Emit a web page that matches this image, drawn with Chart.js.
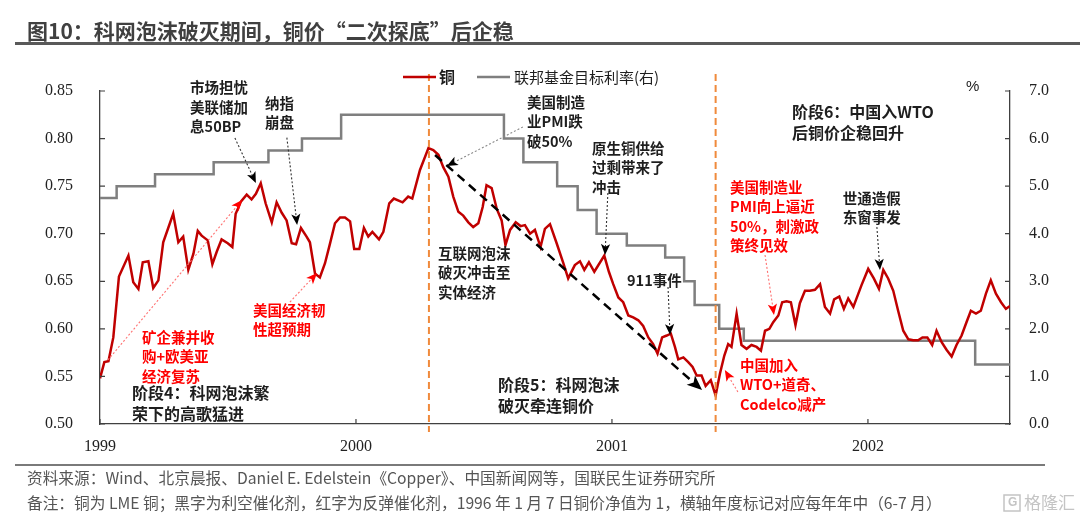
<!DOCTYPE html>
<html>
<head>
<meta charset="utf-8">
<script src="https://cdn.jsdelivr.net/npm/chart.js@4.4.1/dist/chart.umd.min.js"></script>
<style>
  html, body { margin: 0; padding: 0; background: #fff; }
  #wrap { position: relative; width: 1080px; height: 526px; }
</style>
</head>
<body>
<div id="wrap"><canvas id="chart" width="1080" height="526"></canvas></div>
<script>
// x values are years after the 1999 tick (ticks sit at mid-year)
const yearTicks = [0, 1, 2, 3];
const yearLabels = ['1999', '2000', '2001', '2002'];
const xMax = 3.555;

// LME copper, net value (1996-01-07 = 1)
const copperT = [
  0.000, 0.017, 0.033, 0.052, 0.074, 0.111, 0.130, 0.150, 0.167, 0.189,
  0.208, 0.228, 0.247, 0.286, 0.306, 0.325, 0.345, 0.365, 0.382, 0.397,
  0.421, 0.439, 0.456, 0.475, 0.499, 0.517, 0.530, 0.551, 0.573, 0.592,
  0.609, 0.628, 0.647, 0.671, 0.690, 0.710, 0.729, 0.749, 0.766, 0.785,
  0.807, 0.820, 0.840, 0.859, 0.879, 0.898, 0.918, 0.938, 0.957, 0.977,
  0.993, 1.013, 1.031, 1.048, 1.064, 1.090, 1.107, 1.130, 1.148, 1.182,
  1.204, 1.220, 1.250, 1.283, 1.302, 1.322, 1.341, 1.361, 1.380, 1.400,
  1.419, 1.439, 1.458, 1.478, 1.495, 1.510, 1.530, 1.550, 1.569, 1.584,
  1.602, 1.624, 1.643, 1.660, 1.680, 1.699, 1.721, 1.738, 1.758, 1.784,
  1.810, 1.829, 1.855, 1.875, 1.892, 1.910, 1.931, 1.970, 1.988, 2.005,
  2.025, 2.044, 2.064, 2.083, 2.103, 2.122, 2.142, 2.161, 2.178, 2.196,
  2.214, 2.230, 2.246, 2.259, 2.279, 2.298, 2.315, 2.331, 2.350, 2.366,
  2.386, 2.405, 2.422, 2.439, 2.454, 2.467, 2.487, 2.506, 2.526, 2.545,
  2.565, 2.582, 2.598, 2.615, 2.630, 2.650, 2.665, 2.682, 2.699, 2.717,
  2.734, 2.754, 2.773, 2.793, 2.813, 2.832, 2.852, 2.868, 2.888, 2.906,
  2.923, 2.943, 2.975, 3.001, 3.023, 3.043, 3.060, 3.079, 3.099, 3.118,
  3.138, 3.158, 3.177, 3.196, 3.213, 3.232, 3.251, 3.268, 3.288, 3.307,
  3.327, 3.346, 3.366, 3.385, 3.402, 3.422, 3.441, 3.461, 3.480, 3.500,
  3.520, 3.539, 3.555
];
const copperV = [
  0.548, 0.565, 0.566, 0.591, 0.655, 0.677, 0.649, 0.642, 0.670, 0.671,
  0.643, 0.651, 0.691, 0.721, 0.691, 0.697, 0.662, 0.679, 0.703, 0.698,
  0.693, 0.668, 0.681, 0.694, 0.690, 0.686, 0.721, 0.734, 0.741, 0.736,
  0.742, 0.753, 0.732, 0.712, 0.733, 0.722, 0.714, 0.690, 0.689, 0.706,
  0.697, 0.691, 0.658, 0.654, 0.669, 0.689, 0.711, 0.717, 0.717, 0.713,
  0.684, 0.684, 0.706, 0.697, 0.702, 0.694, 0.702, 0.732, 0.737, 0.733,
  0.739, 0.737, 0.767, 0.790, 0.788, 0.783, 0.770, 0.760, 0.739, 0.723,
  0.719, 0.712, 0.707, 0.711, 0.728, 0.751, 0.748, 0.726, 0.714, 0.688,
  0.704, 0.712, 0.708, 0.709, 0.700, 0.704, 0.686, 0.705, 0.710, 0.690,
  0.669, 0.653, 0.667, 0.671, 0.662, 0.670, 0.660, 0.677, 0.660, 0.647,
  0.633, 0.628, 0.614, 0.612, 0.609, 0.603, 0.591, 0.584, 0.574, 0.591,
  0.593, 0.595, 0.581, 0.568, 0.570, 0.565, 0.560, 0.551, 0.551, 0.540,
  0.546, 0.530, 0.553, 0.572, 0.584, 0.581, 0.616, 0.583, 0.579, 0.583,
  0.581, 0.577, 0.598, 0.600, 0.607, 0.614, 0.628, 0.629, 0.628, 0.604,
  0.627, 0.640, 0.640, 0.641, 0.647, 0.623, 0.616, 0.631, 0.634, 0.621,
  0.632, 0.623, 0.646, 0.663, 0.653, 0.642, 0.662, 0.653, 0.640, 0.619,
  0.598, 0.589, 0.588, 0.588, 0.591, 0.591, 0.583, 0.598, 0.586, 0.578,
  0.571, 0.583, 0.593, 0.607, 0.619, 0.616, 0.619, 0.637, 0.651, 0.637,
  0.628, 0.621, 0.624
];

// Fed funds target rate (%), value from each change date on
const rateT = [0, 0.065, 0.215, 0.444, 0.658, 0.789, 0.942, 1.578, 1.654, 1.786,
               1.866, 1.940, 2.058, 2.208, 2.282, 2.323, 2.419, 2.515, 3.419, 3.555];
const rateV = [4.75, 5.00, 5.25, 5.50, 5.75, 6.00, 6.50, 6.00, 5.50, 5.00,
               4.50, 4.00, 3.75, 3.50, 3.00, 2.50, 2.00, 1.75, 1.25, 1.25];

// phase boundaries (orange dashed lines)
const phaseMarks = [1.285, 2.405];

const NUM_FONT = "'Liberation Serif', 'Times New Roman', serif";
const CJK_FONT = "'Noto Sans CJK SC', 'Noto Sans', sans-serif";
const BLACK = '#1e1e1e', RED = '#ff0000';

// annotation texts, anchored at (years, left-axis value)
const notes = [
  { t: 0.352, v: 0.8532, lines: ['市场担忧', '美联储加', '息50BP'], color: BLACK },
  { t: 0.645, v: 0.8374, lines: ['纳指', '崩盘'], color: BLACK },
  { t: 0.164, v: 0.5914, lines: ['矿企兼并收', '购+欧美亚', '经济复苏'], color: RED },
  { t: 0.598, v: 0.6198, lines: ['美国经济韧', '性超预期'], color: RED },
  { t: 0.125, v: 0.5326, lines: ['阶段4：科网泡沫繁', '荣下的高歌猛进'], color: BLACK, big: true },
  { t: 1.320, v: 0.6797, lines: ['互联网泡沫', '破灭冲击至', '实体经济'], color: BLACK },
  { t: 1.668, v: 0.8384, lines: ['美国制造', '业PMI跌', '破50%'], color: BLACK },
  { t: 1.922, v: 0.7901, lines: ['原生铜供给', '过剩带来了', '冲击'], color: BLACK },
  { t: 2.059, v: 0.6513, lines: ['911事件'], color: BLACK },
  { t: 1.555, v: 0.5410, lines: ['阶段5：科网泡沫', '破灭牵连铜价'], color: BLACK, big: true },
  { t: 2.461, v: 0.7491, lines: ['美国制造业', 'PMI向上逼近', '50%，刺激政', '策终见效'], color: RED },
  { t: 2.500, v: 0.5620, lines: ['中国加入', 'WTO+道奇、', 'Codelco减产'], color: RED },
  { t: 2.703, v: 0.8279, lines: ['阶段6：中国入WTO', '后铜价企稳回升'], color: BLACK, big: true },
  { t: 2.902, v: 0.7375, lines: ['世通造假', '东窗事发'], color: BLACK }
];

// dotted pointer arrows [t0, v0, t1, v1, lineColor, headColor]
const pointers = [
  [0.527, 0.8006, 0.609, 0.7533, '#333', '#000'],
  [0.730, 0.8010, 0.770, 0.7092, '#333', '#000'],
  [0.031, 0.5673, 0.555, 0.7354, '#ff7070', RED],
  [0.742, 0.6282, 0.848, 0.6587, '#ff7070', RED],
  [1.652, 0.8122, 1.355, 0.7712, '#888', '#000'],
  [1.984, 0.7428, 1.973, 0.6776, '#333', '#000'],
  [2.219, 0.6440, 2.227, 0.5935, '#333', '#000'],
  [2.598, 0.6776, 2.633, 0.6146, '#ff7070', RED],
  [2.492, 0.5336, 2.441, 0.5567, '#ff7070', RED],
  [3.035, 0.7070, 3.047, 0.6619, '#333', '#000']
];
const trendArrow = [1.309, 0.7827, 2.352, 0.5357];

function drawArrow(ctx, x0, y0, x1, y1, lineColor, headColor, width, dash, head) {
  const a = Math.atan2(y1 - y0, x1 - x0);
  const bx = x1 - Math.cos(a) * head * 0.7, by = y1 - Math.sin(a) * head * 0.7;
  ctx.save();
  ctx.setLineDash(dash);
  ctx.strokeStyle = lineColor;
  ctx.lineWidth = width;
  ctx.beginPath();
  ctx.moveTo(x0, y0);
  ctx.lineTo(bx, by);
  ctx.stroke();
  ctx.setLineDash([]);
  ctx.translate(x1, y1);
  ctx.rotate(a);
  ctx.beginPath();
  ctx.moveTo(0, 0);
  ctx.lineTo(-head, -head * 0.42);
  ctx.lineTo(-head * 0.75, 0);
  ctx.lineTo(-head, head * 0.42);
  ctx.closePath();
  ctx.fillStyle = headColor;
  ctx.fill();
  ctx.restore();
}

const decor = {
  id: 'decor',
  afterDatasetsDraw(chart) {
    const { ctx, chartArea: area, scales: { x, y, y1 } } = chart;
    const X = t => x.getPixelForValue(t), Y = v => y.getPixelForValue(v);
    ctx.save();

    // inner tick marks
    ctx.strokeStyle = '#404040';
    ctx.lineWidth = 1.2;
    ctx.beginPath();
    y.ticks.forEach(tk => { const py = Y(tk.value); ctx.moveTo(area.left, py); ctx.lineTo(area.left + 5, py); });
    y1.ticks.forEach(tk => { const py = y1.getPixelForValue(tk.value); ctx.moveTo(area.right, py); ctx.lineTo(area.right - 5, py); });
    yearTicks.forEach(v => { const px = X(v); ctx.moveTo(px, area.bottom); ctx.lineTo(px, area.bottom - 5); });
    ctx.stroke();

    // phase boundaries
    ctx.strokeStyle = '#f08a3c';
    ctx.lineWidth = 2;
    ctx.setLineDash([7, 4]);
    phaseMarks.forEach(t => {
      ctx.beginPath();
      ctx.moveTo(X(t), 74);
      ctx.lineTo(X(t), area.bottom + 8);
      ctx.stroke();
    });
    ctx.setLineDash([]);

    // trend arrow
    drawArrow(ctx, X(trendArrow[0]), Y(trendArrow[1]), X(trendArrow[2]), Y(trendArrow[3]),
      '#000', '#000', 2.5, [9, 6], 15);

    pointers.forEach(p => drawArrow(ctx, X(p[0]), Y(p[1]), X(p[2]), Y(p[3]), p[4], p[5], 1.1, [2, 2], 11));

    // annotation texts
    ctx.textBaseline = 'middle';
    ctx.textAlign = 'left';
    notes.forEach(n => {
      ctx.font = n.big ? `bold 16px ${CJK_FONT}` : `bold 14.5px ${CJK_FONT}`;
      ctx.fillStyle = n.color;
      const lh = n.big ? 21 : 19.5;
      n.lines.forEach((s, i) => ctx.fillText(s, X(n.t), Y(n.v) + i * lh));
    });

    // legend
    ctx.lineWidth = 2.5;
    ctx.strokeStyle = '#c00000';
    ctx.beginPath(); ctx.moveTo(403, 77); ctx.lineTo(436, 77); ctx.stroke();
    ctx.strokeStyle = '#7f7f7f';
    ctx.beginPath(); ctx.moveTo(477, 77); ctx.lineTo(510, 77); ctx.stroke();
    ctx.fillStyle = BLACK;
    ctx.font = `bold 16px ${CJK_FONT}`;
    ctx.fillText('铜', 439, 77);
    ctx.font = `15px ${CJK_FONT}`;
    ctx.fillText('联邦基金目标利率(右)', 514, 77);

    // unit of the right axis
    ctx.font = `15px 'Liberation Sans', sans-serif`;
    ctx.fillStyle = '#222';
    ctx.fillText('%', 966, 87);

    // title and footer
    ctx.font = `bold 21px ${CJK_FONT}`;
    ctx.fillStyle = '#404040';
    ctx.fillText('图10：科网泡沫破灭期间，铜价“二次探底”后企稳', 27, 31);
    ctx.fillStyle = '#595959';
    ctx.fillRect(15, 42, 1065, 3);
    ctx.fillStyle = '#7a7a7a';
    ctx.fillRect(15, 464, 1030, 2);
    ctx.font = `15.7px ${CJK_FONT}`;
    ctx.fillStyle = '#555';
    ctx.fillText('资料来源：Wind、北京晨报、Daniel E. Edelstein《Copper》、中国新闻网等，国联民生证券研究所', 27, 478);
    ctx.fillText('备注：铜为 LME 铜；黑字为利空催化剂，红字为反弹催化剂，1996 年 1 月 7 日铜价净值为 1，横轴年度标记对应每年年中（6-7 月）', 27, 503);

    // watermark
    ctx.strokeStyle = '#c4c4c4';
    ctx.lineWidth = 1.5;
    ctx.strokeRect(1004, 495, 16, 16);
    ctx.font = `bold 12px 'Liberation Sans', sans-serif`;
    ctx.fillStyle = '#c4c4c4';
    ctx.fillText('G', 1008, 503);
    ctx.font = `17px ${CJK_FONT}`;
    ctx.fillText('格隆汇', 1024, 503);
    ctx.restore();
  }
};

new Chart(document.getElementById('chart'), {
  type: 'line',
  data: {
    datasets: [
      {
        label: '铜',
        data: copperT.map((t, i) => ({ x: t, y: copperV[i] })),
        borderColor: '#c00000',
        borderWidth: 2.5,
        pointRadius: 0,
        tension: 0,
        yAxisID: 'y'
      },
      {
        label: '联邦基金目标利率(右)',
        data: rateT.map((t, i) => ({ x: t, y: rateV[i] })),
        borderColor: '#7f7f7f',
        borderWidth: 2.5,
        pointRadius: 0,
        stepped: 'before',
        yAxisID: 'y1'
      }
    ]
  },
  options: {
    responsive: false,
    animation: false,
    events: [],
    layout: { padding: { top: 91, left: 0, right: 0, bottom: 0 } },
    plugins: { legend: { display: false }, tooltip: { enabled: false } },
    scales: {
      x: {
        type: 'linear',
        min: 0,
        max: xMax,
        afterBuildTicks: s => { s.ticks = yearTicks.map(v => ({ value: v })); },
        afterFit: s => { s.height = 102; },
        grid: { display: false },
        border: { display: true, color: '#404040', width: 1.3 },
        ticks: {
          autoSkip: false,
          maxRotation: 0,
          padding: 5,
          color: '#222',
          font: { family: NUM_FONT, size: 16 },
          callback: (v, i) => yearLabels[i]
        }
      },
      y: {
        position: 'left',
        min: 0.5,
        max: 0.85,
        afterFit: s => { s.width = 100; },
        grid: { display: false },
        border: { display: true, color: '#404040', width: 1.3 },
        ticks: {
          stepSize: 0.05,
          padding: 19,
          color: '#222',
          font: { family: NUM_FONT, size: 16 },
          callback: v => v.toFixed(2)
        }
      },
      y1: {
        position: 'right',
        min: 0,
        max: 7,
        afterFit: s => { s.width = 70; },
        grid: { display: false },
        border: { display: true, color: '#404040', width: 1.3 },
        ticks: {
          stepSize: 1,
          padding: 11,
          color: '#222',
          font: { family: NUM_FONT, size: 16 },
          callback: v => v.toFixed(1)
        }
      }
    }
  },
  plugins: [decor]
});
</script>
</body>
</html>
